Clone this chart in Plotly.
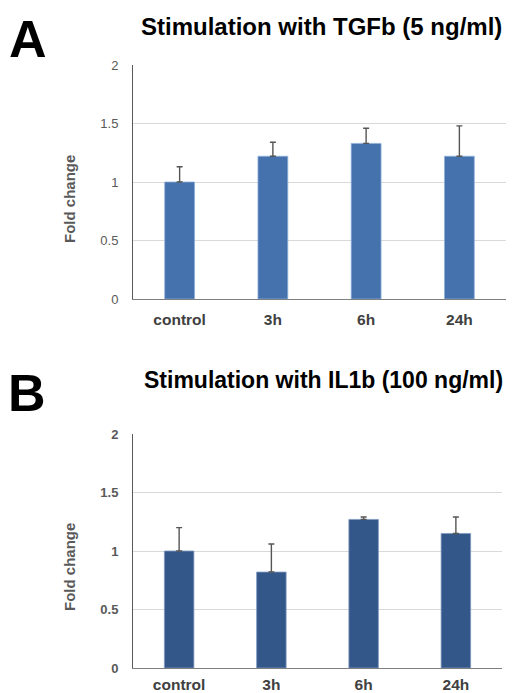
import plotly.graph_objects as go
from plotly.subplots import make_subplots

categories = ["control", "3h", "6h", "24h"]
tgfb_values = [1.00, 1.22, 1.33, 1.22]
tgfb_err = [0.13, 0.12, 0.13, 0.26]
il1b_values = [1.00, 0.82, 1.27, 1.15]
il1b_err = [0.20, 0.24, 0.02, 0.14]
y_ticks = [0, 0.5, 1, 1.5, 2]
y_ticklabels = ["0", "0.5", "1", "1.5", "2"]

W, H = 519, 693
OFF = 8  # page body margin offset
FONT = "Liberation Sans, Arial, sans-serif"

fig = make_subplots(rows=2, cols=1)

fig.add_trace(go.Bar(
    x=categories, y=tgfb_values, width=0.32,
    marker=dict(color="#4571AC", line=dict(color="#8FB0DA", width=0.8)),
    error_y=dict(type="data", array=tgfb_err, arrayminus=[0]*4, symmetric=False,
                 color="#555555", thickness=1.4, width=3),
    showlegend=False), row=1, col=1)
fig.add_trace(go.Bar(
    x=categories, y=il1b_values, width=0.32,
    marker=dict(color="#34578A", line=dict(color="#7F9AC0", width=0.8)),
    error_y=dict(type="data", array=il1b_err, arrayminus=[0]*4, symmetric=False,
                 color="#555555", thickness=1.4, width=3),
    showlegend=False), row=2, col=1)

def px_y(p):
    return 1 - (p - OFF) / H

def px_x(p):
    return (p - OFF) / W

fig.update_layout(
    width=W, height=H, margin=dict(l=0, r=0, t=0, b=0, autoexpand=False),
    paper_bgcolor="white", plot_bgcolor="white",
    font=dict(family=FONT, color="#595959"),
    xaxis=dict(domain=[px_x(133), px_x(506)]),
    xaxis2=dict(domain=[px_x(133), px_x(502)]),
    yaxis=dict(domain=[px_y(299), px_y(65)]),
    yaxis2=dict(domain=[px_y(668), px_y(434)]),
)

for r, bold, stand in [(1, False, 6), (2, True, 2)]:
    fig.update_yaxes(row=r, col=1, range=[0, 2], tickvals=y_ticks,
                     ticktext=[f"<b>{t}</b>" if bold else t for t in y_ticklabels],
                     showgrid=True, gridcolor="#D9D9D9", gridwidth=1,
                     showline=True, linecolor="#595959", linewidth=1,
                     zeroline=False, ticks="", ticklabelstandoff=11,
                     tickfont=dict(size=13, color="#595959", family=FONT))
    fig.update_xaxes(row=r, col=1, showline=True, linecolor="#7F7F7F", linewidth=1,
                     ticks="", showgrid=False, tickvals=categories,
                     ticktext=[f"<b>{c}</b>" for c in categories],
                     ticklabelstandoff=stand,
                     tickfont=dict(size=15.5, color="#404040", family=FONT))

ann = [
    dict(text="<b>A</b>", x=28, y=9, size=52),
    dict(text="<b>B</b>", x=27, y=363, size=52),
    dict(text="<b>Stimulation with TGFb (5 ng/ml)</b>", x=321, y=12, size=24),
    dict(text="<b>Stimulation with IL1b (100 ng/ml)</b>", x=323, y=366, size=23),
]
for a in ann:
    fig.add_annotation(text=a["text"], x=px_x(a["x"]), y=px_y(a["y"]), xref="paper", yref="paper",
                       xanchor="center", yanchor="top", showarrow=False, borderpad=0,
                       font=dict(size=a["size"], color="black", family=FONT))

for yc in [199, 567]:
    fig.add_annotation(text="<b>Fold change</b>", x=px_x(69), y=px_y(yc), xref="paper", yref="paper",
                       xanchor="center", yanchor="middle", showarrow=False, textangle=-90,
                       font=dict(size=15, color="#595959", family=FONT))

fig.write_html("out.html")
